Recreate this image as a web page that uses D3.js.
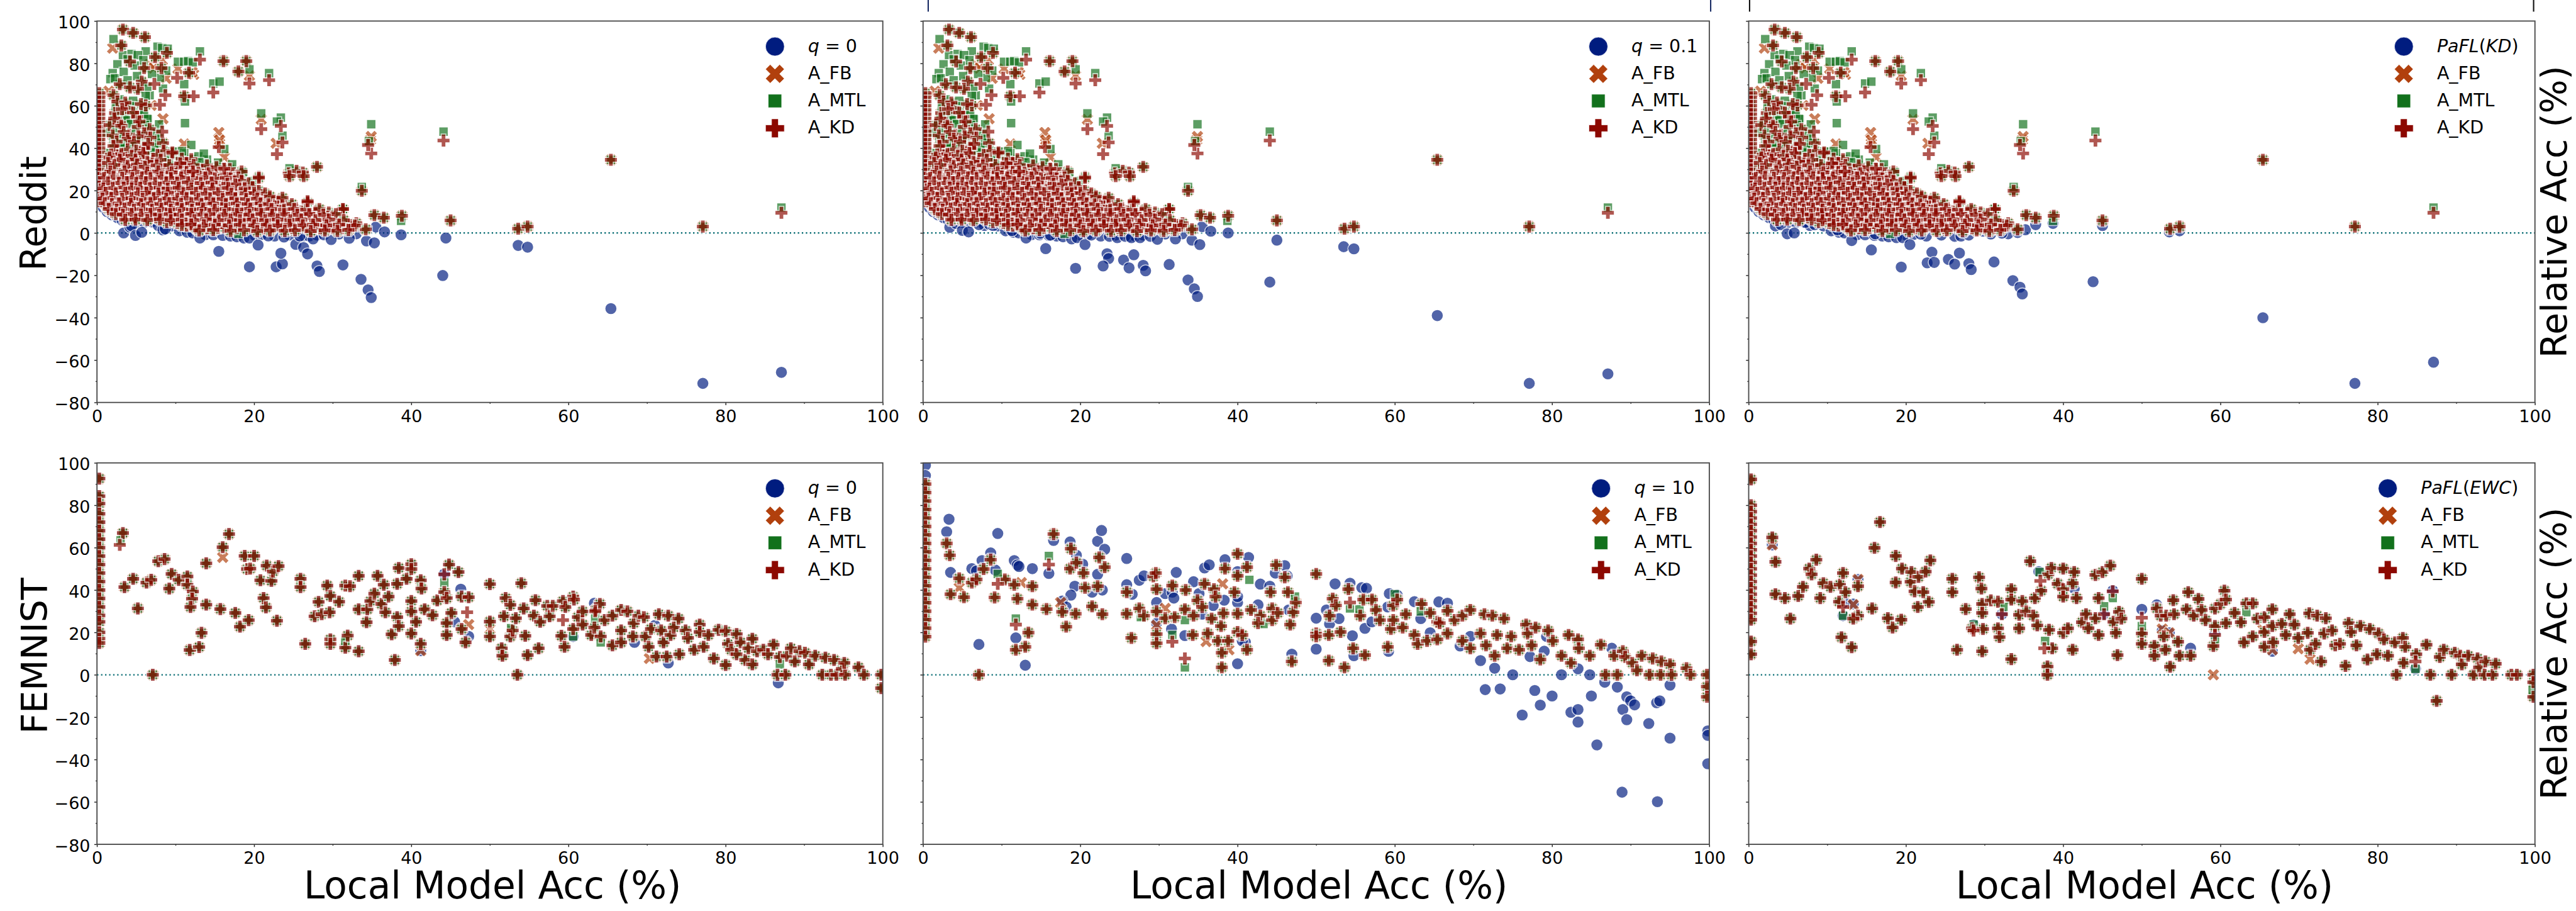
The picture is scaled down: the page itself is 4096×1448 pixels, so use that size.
<!DOCTYPE html>
<html><head><meta charset="utf-8">
<script src="https://cdnjs.cloudflare.com/ajax/libs/d3/7.8.5/d3.min.js"></script>
<style>html,body{margin:0;background:#fff}svg{display:block}text{font-family:"DejaVu Sans";fill:#000}</style>
</head><body><svg id="c" width="4096" height="1448" viewBox="0 0 5755 2035"></svg>
<script>
const xTicks=[0,20,40,60,80,100], xMinor=[10,30,50,70,90];
const yTicks=[-80,-60,-40,-20,0,20,40,60,80,100], yMinor=[-70,-50,-30,-10,10,30,50,70,90];
const seriesNames=["A_FB","A_MTL","A_KD"];

// ---------- Reddit: the three client series barely change between the panels
const redditStrip=[[.3,66],[.3,64],[.3,62],[.3,60],[.3,58],[.3,56],[.3,54],[.3,52],[.3,50],[.3,48],[.3,46],[.3,44],[.3,42],[.3,40],[.3,38],[.3,36],[.3,34],[.3,32],[.3,30],[.3,28],[.3,26],[.3,24],[.3,22],[.3,20],[.3,18],[.3,16.5],[.3,15]];
const redditShared=[[3.3,96],[4.6,94.4],[6.1,92.4],[3.1,88.5],[8.9,85],[7.4,83],[4.2,80.9],[6,77.8],[8.2,77.8],[16.1,81.1],[19,81.1],[18,76.2],[11.7,75.6],[5.7,71.4],[2.9,70.2],[11.1,64.5],[6.2,60.2],[5.2,68],[3.8,59],[2.1,65],[2.6,62],[4.2,68.7],[2.3,56.6],[5.1,54.8],[2.9,51.8],[1.6,50.9],[6.7,49],[5.2,50],[4.1,46.3],[8.4,42.4],[6,40.6],[2.5,38.4],[3.6,34.8],[9.5,37.5],[7.1,35],[12,34.8],[17,27.9],[14.5,29.3],[20.6,26.5],[24.4,28.1],[25.4,29.3],[26.2,28.5],[28,31.2],[33.7,19.9],[11.2,30.2],[10.2,31.4],[12.7,26.3],[23,14.8],[25.3,10.2],[29.5,9.6],[31.3,11.2],[27,9.3],[35.3,8.4],[36.5,7.2],[38.8,8.1],[45,5.9],[34.2,1.7],[32.2,2.7],[53.6,2],[54.8,3],[65.4,34.5],[77.1,3],
[2.5,36.5],[3.6,33],[4.7,27],[6.1,40],[5.4,35.8],[7.1,33.8],[8.5,38.7],[9.6,38],[8,28],[10.1,30.6],[11.2,31.3],[11.1,26.4],[12.7,26.4],[9.9,26.8],[14.6,29.2],[14.8,23.9],[16.1,30.3],[17,27.1],[16.6,19.4],[14.6,18.7],[13.5,16.2],[12.2,18.3],[10.5,18.3],[9.6,18.7],[7.9,15.5],[6.6,15.2],[5.6,19.4],[4.1,17.3],[3.3,14.1],[1.9,15.8],[8.8,12.7],[10.7,8.8],[12.2,6.7],[13.6,7],[14.6,9.5],[16.7,5.6],[15.4,2.5],[11.4,3.5],[18,9.2],[19,12.7],[21.8,12],[19.2,6],[21.8,4.9],[23.5,9.2],[23.1,15.1],[25.5,10.6],[26.9,14.4],[27.1,8.5],[25.6,3.5],[27.7,2.8],[23.5,3.5],[20.6,26],[24.5,26.8],[26.3,26.8],
[2,30],[4.3,30],[5.5,30.4],[6.8,29.7],[8.6,30.2],[11.9,30],[13.3,29.6],
[1.2,27.5],[3,27.8],[4,27.2],[5.9,27.6],[7,27.3],[9,27.7],[10.8,27.4],[12,27.7],[13.6,27.3],[15.8,27.5],
[1.6,25],[2.6,25.3],[3.7,24.8],[5.1,25.2],[6.3,24.9],[7.6,25.3],[8.8,24.7],[10,25.2],[11.5,24.8],[13,25.1],[14.2,24.9],[15.6,25.3],[17.4,24.7],
[1,22.5],[2.2,22.8],[3.2,22.3],[4.4,22.7],[5.6,22.4],[6.9,22.8],[8.2,22.3],[9.3,22.7],[10.9,22.4],[12.6,22.6],[13.8,22.3],[15.2,22.7],[16.1,22.4],[18,22.5],
[1.5,20],[2.7,20.3],[3.9,19.8],[4.9,20.2],[6.2,19.9],[7.4,20.3],[8.6,19.7],[9.8,20.2],[11.3,19.9],[12.9,20.2],[14,19.8],[15.8,20.1],[17.4,19.8],[18.6,20.2],
[.9,17.5],[2,17.8],[3.1,17.3],[4.6,17.7],[5.4,17.4],[6.8,17.8],[8.2,17.3],[9.2,17.6],[10.8,17.4],[11.8,17.7],[13.2,17.3],[14.9,17.6],[16.3,17.4],[17.8,17.7],[19.3,17.3],[20.6,17.5],
[1.4,15],[2.5,15.3],[3.7,14.8],[4.8,15.2],[6,14.9],[7.2,15.3],[8.5,14.8],[9.6,15.2],[11,14.9],[12.4,15.2],[13.9,14.8],[15.2,15.1],[16.8,14.9],[18.3,15.2],[19.6,14.8],[21,15],[22.4,14.7],
[1.2,13],[2.1,12.7],[3,12.3],[4.2,12.7],[5.2,12.4],[6.6,12.8],[7.6,12.3],[9.3,12.6],[10.3,12.4],[11.7,12.7],[13,12.3],[14.3,12.6],[15.8,12.4],[17.4,12.7],[18.7,12.3],[20.3,12.6],[22.6,12.4],[24,12.6],
[1.9,10.2],[2.9,9.8],[4,10.2],[5,9.9],[6.2,10.3],[7.4,9.8],[8.5,10.2],[9.8,9.9],[11.2,10.2],[12.5,9.8],[13.9,10.1],[15.6,9.9],[17,10.2],[18.6,9.8],[20,10.1],[21.2,9.9],[22.5,10.2],[24.4,9.8],[26,10.1],[27.8,9.9],
[3.6,7.7],[4.8,7.3],[6.1,7.7],[7.5,7.4],[8.7,7.8],[9.9,7.3],[11.6,7.6],[12.9,7.4],[14.8,7.7],[15.9,7.3],[17.5,7.6],[19,7.4],[20.4,7.7],[22,7.3],[23.2,7.6],[24.9,7.4],[26.3,7.7],[28.2,7.3],[29.4,7.6],
[8.9,5.2],[10.2,4.8],[11.8,5.1],[13.2,4.8],[14.4,5.2],[16,4.8],[17.3,5.1],[18.8,4.8],[20.2,5.2],[21,4.9],[22.7,5.1],[24.2,4.8],[25.7,5.2],[27,4.8],[28.9,5.1],[30.3,4.8],
[12.6,2.5],[14,2.2],[16.2,2.7],[17.8,2.3],[19.6,2.6],[21.2,2.2],[22.3,2.6],[24.8,2.3],[26.6,2.6],[28.4,2.2],[29.7,2.6],[31.2,2.3],[33,4.6],
[26.8,14.4],[31.3,11.3],[28.9,3.8],[30,2.4],[23.6,3.3],[32.2,3.8]];
const redditDense=[[3.6,61.5],[5.6,60.8],[3.2,58.4],[4.6,56.8],[2.2,54],[5.4,52.6],[3.1,50.6],[3.4,47.6],[6,47],
[2,46],[3.9,44.4],[5.3,45.6],[6.8,45],[2.5,43.1],[4.7,42.9],[6.5,42],
[2.1,41],[3.9,39.4],[5,38.8],[1.8,37],[3.1,37.2],[4.4,36.3],[5.9,37.6],[7.7,36.8],[1.6,35.6],[2.9,34.6],[4.9,34.7],[6.4,33.6],[8.1,34.5],[10.8,35],[11.4,33],
[1.4,33],[2.2,32],[3.9,31.6],[5.1,32.3],[6.1,31.2],[7.6,31.9],[9.2,32],[10.6,32.8],[12.3,32],[14,31.8],[15.2,31],[16.9,30.1],[18.4,29],
[1.7,28.9],[3.5,29],[4.8,28.8],[6.4,28.5],[7.8,29],[9.5,28.6],[11.4,28.8],[12.9,28.4],[14.2,28.1],[16.5,27.6],[18,26.2],
[.9,26],[2.1,26.4],[3.2,26],[4.5,25.9],[5.7,26.2],[6.8,25.9],[8.2,26.3],[9.4,25.9],[10.7,26.2],[12.3,25.9],[13.8,26.2],[15,25.7],[16.4,26],[18.4,24.6],[19.3,23.4],
[1.4,23.8],[2.8,23.6],[3.8,24],[5,23.6],[6.2,23.9],[7.4,23.5],[8.8,23.8],[10.2,23.7],[11.6,23.9],[13.2,23.5],[14.6,23.8],[16.6,23.2],[17.6,22.9],[19.8,21.6],
[.8,21],[2,21.2],[3.4,21.4],[4.4,21],[5.5,21.3],[6.7,21.1],[8,21.4],[9,20.9],[10.4,21.3],[12,21],[13.4,21.3],[14.7,21],[16.7,21.2],[18.8,21],[20.6,19.8],[21.4,18.6],
[1.1,18.9],[2.4,18.7],[3.6,19],[5.2,18.7],[6.3,19],[7.8,18.6],[9,19],[11,18.8],[12.6,18.9],[13.8,18.5],[15.4,18.8],[17.1,18.5],[18.9,18.7],[20,18.8],[22,17.2],
[.7,16.2],[1.8,16.5],[3.2,16.1],[4.4,16.4],[5.8,16],[7.2,16.4],[8.8,16.2],[10.2,16.1],[11.4,16.4],[12.9,16],[14.4,16.3],[16,16],[17.6,16.3],[19,16],[20.4,16.2],[23.6,16.6],
[1,14],[1.9,13.6],[2.8,13.9],[4.3,13.8],[5.6,13.6],[6.8,14],[8,13.6],[9.2,14],[10.7,13.7],[12,14],[13.3,13.6],[14.8,13.9],[16.4,13.6],[17.8,13.9],[19.2,13.6],[20.8,13.9],[21.8,13.5],[24.8,13.6],
[1.5,11.3],[2.5,11],[3.5,11.4],[4.7,11],[5.9,11.3],[7,11],[8.2,11.4],[9.4,11],[10.8,11.3],[12.1,11],[13.5,11.4],[15,11],[16.4,11.3],[17.9,11],[19.5,11.4],[20.8,11],[22.2,11.3],[23.8,11],[25.1,11.3],[26.6,11],[28.3,11.3],
[2.4,8.9],[3.3,8.6],[4.4,9],[5.6,8.7],[6.8,9],[7.9,8.6],[9.3,8.9],[10.5,8.6],[12,9],[13.3,8.6],[14.3,8.9],[16.2,8.6],[17.8,8.9],[19.4,8.6],[20.9,8.9],[22.3,8.6],[23.8,8.9],[25.5,8.6],[27,8.9],[28.8,8.6],[30.4,8.9],
[3.6,6.2],[4.9,6.3],[6.4,6.1],[8,6.4],[9.4,6],[10.8,6.3],[12.4,6],[13.9,6.4],[15.5,6],[17,6.3],[18.2,6],[19.8,6.3],[21.4,6],[23,6.3],[24.6,6],[26,6.3],[27.8,6],[29.5,6.3],[31.4,6],
[10.8,3.8],[12,4],[13.6,3.6],[15,3.9],[16.8,3.6],[18.2,3.9],[20,3.6],[21.6,3.9],[23,3.6],[24.5,3.9],[26.2,3.6],[27.5,3.9],[29.2,3.6],[30.8,3.9],[32.8,3.5],
[13,1.2],[14.8,1.4],[17,1],[18.7,1.3],[20.4,.9],[22,1.2],[23.9,1],[25.2,1.3],[27.2,.9],[29,1.2],[30.6,1],[32,1.4]];
const redditKDOnly=[[19.4,70.5],[10.2,73.2],[7.3,70.3],[12.3,64.5],[14.8,66.3],[8.7,65],[8,60.5],[8.3,47.8],[22.9,37.2],[15.5,40.5],[34.9,37.5],[13.1,81.8],[44.1,43.6],[16.2,30.3],[23.4,50.5],[20.9,49],[23.6,42.7],[26.8,15],[21.9,72.1],[34.5,41.5],[87.1,9.5],[12.2,29]];
const redditMTLOnly=[[2.1,91.5],[13.1,85.7],[7.7,87.9],[8.3,87.3],[9,86.9],[6.2,85.7],[3.3,83.9],[4.4,84.5],[5.2,83.9],[2.6,79.6],[2,75.4],[1.7,72.6],[2.3,73],[10.3,80.8],[11.1,80.8],[11.6,81.1],[12.2,80.5],[8.8,76.6],[8,73.2],[11.1,70.2],[11.2,62],[14.8,70.5],[15.6,71.4],[19.4,77.2],[21.9,75.4],[20.9,56.4],[23.4,54.4],[22.9,52.6],[23.6,45.9],[34.9,51.3],[34.6,43.3],[44.1,47.8],[11.2,51.8],[6.7,65],[6.2,64.8],[8.4,68.1],[7.9,51.2],[1.3,47.3],[7.7,42.4],[6.4,43.9],[5.4,43.5],[12,41.5],[11.1,37.6],[16.2,39.6],[1.4,37.8],[1.2,30.5],[2.1,44.5],[10.2,36.6],[8.8,36],[7.8,37.2],[12.7,33.6],[6.5,53.6],[3.6,54.4],[17.7,23.3],[33.7,21.7],[24.5,30.5],[26.8,13],[15.7,26.9],[14.4,31.2],[38.7,5.7],[18,-.4],[87.1,12],[5,44],[3.2,40],[4.6,41],[6.8,39],[9.2,33],[13.4,30],[3,47],[3.9,82],[5.9,81.5],[4.8,79],[3.4,76],[7,75],[5.1,74],[3.9,72],[6.4,69],[9.6,38.5],[10.8,38.6],[12.9,36.2],[14,34.6],[13.6,37.4],[15.4,33.2],[17.2,32.4],[18.6,28.6],[19.8,24.6],[2.9,63],[4.6,62.4],[2.4,59.6],[4.4,59.8],[5.9,58],[2.7,56],[3.5,55.5],[6,56.2],[3.9,53.2],[6.4,53.8],[1.9,52],[4.3,51.4],[6.1,50.9],[2.4,48.6],[4.9,47.8],[7.6,47.2],[2.9,45.2],[7.9,44.6],[3.4,42.3],[7.3,40.7],[3,40.3],[6.9,38],[9.1,36],[13,33.4]];
const redditFBOnly=[[2,87.2],[8.3,81.5],[6.7,79.6],[7.2,77.8],[10.3,77.5],[12.3,74.8],[12.1,76],[8.8,73],[19.4,74.2],[1.5,66.9],[6.9,60.2],[8.4,53.9],[15.5,47.4],[20.9,53.6],[22.8,42.3],[34.8,43.9],[16.2,35.8],[11.1,42],[12.8,30.5],[8.8,32.4],[.7,34.8],[34.9,45.5],[15.6,42.2],[15.6,43.8]];
const redditQEdge=[[.8,12],[1.3,10],[1.9,8.5],[2.6,7.2],[3.2,6],[4,5.4],[5,5],[6,5],[7,5.2],[7.8,3.5],[9.5,3.3],[10.5,1],[11.5,.3],[12.2,0],[13.8,-.8],[14.8,-.9],[16,-1.2],[17,-1.5],[17.8,-1.8],[20,-1],[21,-.7],[22.6,-1.5],[24.5,-1],[26.2,-1.6],[27,-1.5],[28,-1],[30.8,-.5],[33,-.4],[16.6,12.3],[26.5,9.6]];
const redditQ0=[[3.4,0],[4.2,2.8],[4.4,3.3],[4.9,-1.2],[5.7,.3],[8.4,1.4],[8.7,1.9],[13.1,-2.4],[15.5,-8.7],[18.7,-2.4],[19.4,-2.4],[20.5,-5.7],[19.4,-16],[22.8,-16],[23.6,-14.6],[23.4,-9.6],[21.8,-1.4],[23.8,-1.9],[25.3,-5.4],[26.3,-6.9],[26.8,-9.9],[25.8,-1.4],[27.5,-2.8],[28,-15.6],[28.3,-18.2],[28.9,-.9],[29.8,-3.1],[31.3,-15.1],[32.1,-2.5],[33.6,-21.9],[34.5,-26.9],[34.9,-30.5],[34.3,-3.8],[35.3,-4.7],[35.5,2.8],[36.6,.5],[38.7,-.9],[44,-20.1],[44.4,-2.4],[31.1,1.4],[53.6,-5.9],[54.8,-6.7],[65.4,-35.7],[77.1,-71],[87.1,-65.8]];
const redditQ01=[[3.4,2.7],[4.2,4.5],[5,1.2],[5.8,.5],[7.1,3.9],[8.4,4.2],[8.9,3.5],[11.3,1.1],[13.1,-2.4],[14.9,-.1],[16.2,-1],[15.6,-7.4],[18.9,-2.8],[19.6,-2.2],[20.6,-5.5],[19.4,-16.7],[21.4,-1],[23.4,-9.8],[23.6,-12.1],[22.9,-15.6],[23.7,-1.6],[24.7,-2.2],[25.5,-12.8],[26.2,-16.5],[26.8,-10.3],[25.7,-1.6],[26.5,-2.2],[27.6,-2.2],[28,-15.3],[28.3,-17.9],[28.9,-1.6],[29.8,-3],[31.3,-14.9],[32.1,-2.8],[33.7,-22.2],[34.5,-26.4],[34.9,-30],[34.2,-3.4],[35.2,-5.5],[35.5,3],[36.6,.8],[38.8,0],[45,-3.4],[44.1,-23.2],[31,1.5],[53.5,-6.5],[54.8,-7.5],[65.4,-39],[77.1,-71],[87.1,-66.5]];
const redditQKD=[[3.4,3.3],[4.1,3.9],[4.9,-.4],[5.8,0],[7.2,5],[8.4,3.9],[11.3,1.5],[13.1,-3.6],[15.6,-8],[16.1,-.4],[18.8,-2.2],[19.6,-2.2],[20.5,-5.5],[19.4,-16.1],[21.9,-.6],[23.3,-9.1],[22.7,-14.1],[23.6,-13.9],[25.4,-12.5],[26.2,-14.7],[26.8,-9.5],[28,-14.5],[28.3,-17.3],[29.8,.8],[31.2,-13.7],[32.2,-.1],[33.6,-22.5],[34.5,-25.6],[34.8,-28.8],[34.2,.2],[35.2,1.5],[36.5,3.9],[38.7,4.5],[43.8,-23],[27.3,.2],[45,3.5],[53.5,.5],[54.8,1],[65.4,-40],[77.1,-71],[87.1,-61]];

// ---------- FEMNIST panel 1
const fem1Shared=[[.3,92.6],[.3,84.3],[.3,80.8],[.3,76],[.3,72],[.3,68],[.3,64],[.3,60],[.3,56],[.3,52],[.3,48],[.3,44],[.3,40],[.3,36],[.3,32],[.3,28],[.3,25],[.3,20],[.3,17],[.3,15],[3.3,66.9],[3.5,41.4],[4.6,45.3],[6.3,43.5],[6.9,44.8],[5.2,31.3],[7.1,0],[7.8,53.6],[8.6,54.6],[9.2,40.7],[9.5,47.6],[10.4,44.8],[11.5,46.4],[11.5,42.5],[12.2,39.3],[12.1,35.9],[11.9,32],[11.8,11.7],[13,13.1],[13.3,19.8],[13.9,52.6],[13.9,33.1],[15.7,31],[16,60.2],[16.8,66.4],[17.6,29.2],[18.2,22.7],[18.8,56.1],[19.1,49.9],[20,56.1],[19.5,50.1],[19.3,25.8],[20.8,44.6],[21.2,36.2],[21.5,31.8],[21.6,51.5],[22.2,44.3],[22.4,48.7],[23.1,51.3],[22.9,25.5],[25.9,45.3],[25.9,41.4],[26.5,14.6],[27.7,27.6],[28.2,34.4],[28.6,28.6],[29.3,42.1],[29.7,37.2],[29.6,29.5],[29.7,16.7],[29.7,14.6],[30.8,34.5],[31.6,42.1],[32.2,41.8],[31.6,12.8],[31.9,18.5],[33.3,46.7],[33.3,30.9],[33.3,11.1],[34.4,30.9],[34.3,24.8],[34.8,34.8],[35.3,38.3],[35.7,46.7],[36.2,33.4],[36.5,42.5],[36.7,29.5],[37.1,36.9],[37.5,19.1],[37.9,7],[38.2,42.9],[38.2,27.2],[38.4,23],[38.4,50.4],[39.4,45.3],[40,34.8],[40,29.9],[40,19.5],[40,52.2],[40,49.9],[40.6,25],[41.2,44.6],[41.3,40.7],[41.2,14.6],[41.7,30.9],[42.7,28.1],[43.3,35.1],[44.2,39],[44.5,36.2],[44.5,24.4],[44.5,18.8],[44.8,52],[45.1,29.2],[46,48.5],[46.4,36.9],[46.4,21.6],[46.9,15.3],[47.3,36.6],[50,42.8],[50,25.1],[50,18.1],[51.5,12.5],[51.6,9],[51.8,27.6],[52,36.2],[52.6,33],[52.6,18.1],[52.9,20.9],[53.3,26.7],[53.5,0],[54,43.2],[54.3,31.3],[54.5,18.4],[54.8,9.3],[55.8,35.2],[55.6,27.9],[56.4,25],[56.2,12.5],[57.3,32.5],[57.6,27.6],[58,32.5],[59.3,34.8],[59.6,32],[59.1,18.4],[59.5,13.2],[60.6,36.9],[60.7,35.5],[60.6,21.6],[61.2,27.2],[61.8,29.9],[61.8,23.7],[62.9,18.8],[63.3,22.3],[63.5,30.6],[64,33.4],[64.1,18.1],[64.6,25.8],[65.6,13.9],[65.6,27.9],[66.7,30.6],[66.7,20.9],[66.7,15.3],[67.5,29.9],[68.2,18.1],[68.3,24.4],[68.9,27.9],[69.6,27.2],[69.8,18.1],[70.2,13.2],[70.5,21.6],[71.2,8.6],[71.5,28.6],[71.8,20.9],[72.1,15.3],[72.5,8.6],[72.7,27.9],[73,18.8],[73.4,22.3],[74,26.5],[74.1,9.7],[74.9,20.9],[75.2,17.4],[76,11.8],[76.7,23.7],[76.7,20.2],[77.2,13.2],[77.8,18.8],[78.5,7.7],[79.1,21.2],[80,20.6],[80,4.6],[80.3,14.6],[80.7,11.8],[81.4,19.2],[81.4,9.7],[81.9,15.3],[82.5,7],[82.9,12.5],[83.4,17],[83.4,4.9],[84,11.1],[84.8,11.8],[85.4,9.7],[86.1,14.2],[86.6,0],[87.6,0],[86.9,8.4],[87.8,9],[88.3,12.5],[88.8,6.3],[89.4,11.1],[90.1,10.4],[90.6,4.9],[91.4,9],[92.3,0],[92.7,8.1],[93.8,7],[93.4,0],[94.1,0],[94.8,2.8],[95.2,0],[95.1,5.6],[96.9,3.5],[97.6,0],[99.8,0],[99.8,-6.3]];
const fem1Q=[[63.3,33.8],[71,23.3],[72.7,5.6],[86.7,-3.8],[44.2,47.6],[46.3,40.4],[45.5,25],[47.3,18.1],[68.4,15.3],[60.6,18.1],[41.2,11.4]];
const fem1FB=[[16,55.4],[47.3,23.7],[70.3,7.7],[50,21.6],[41.2,11.4]];
const fem1MTL=[[3,63.4],[44.2,43.5],[63.4,26.5],[64.1,15.3],[86.9,4.9],[31.6,16],[60.6,18.1],[52.7,22]];
const fem1KD=[[2.9,61.3],[47.1,29.5],[59.3,25.8],[44.2,47.4],[63.4,30]];

// ---------- FEMNIST panel 2
const fem2Shared=[[.3,90],[.3,86],[.3,82],[.3,78],[.3,74],[.3,70],[.3,66],[.3,62],[.3,58],[.3,54],[.3,50],[.3,46],[.3,42],[.3,38],[.3,34],[.3,30],[.3,26],[.3,22],[.3,18],[3,62],[3.4,56.4],[3.5,38],[5.2,36.6],[4.6,45.5],[6.2,43.5],[6.8,45],[7.7,49.9],[8.6,54.3],[9.1,36.5],[10.4,45],[11.6,42.5],[12,35.9],[11.8,11.8],[13,13.2],[13.4,19.9],[13.9,41.8],[13.9,33.1],[15.7,31],[16.6,66.4],[17.7,29.7],[18.2,22.7],[18.8,59.5],[18.7,50.1],[19.5,52.9],[19.4,28.8],[20.4,48],[20.6,41.1],[21.5,32.3],[22.2,41.8],[22.4,55.4],[23.1,50.8],[22.8,28.6],[7.1,0],[25.9,39],[25.9,28.8],[26.5,17.4],[27.5,31.3],[28.1,27.9],[29.3,46.4],[29.6,48],[29.7,40.4],[29.7,29.9],[29.7,19.2],[29.7,14.9],[30.8,26.7],[31.7,42.1],[32,27.2],[33.3,30.9],[33.4,40],[34.3,18.8],[34.4,27.9],[34.9,35.1],[35.5,32],[35.8,42.9],[36.2,19.5],[36.7,26.5],[37,40.4],[37.2,36.9],[37.5,16],[38,10.4],[38,3.5],[37.9,23],[38.2,29],[38.4,50.1],[38.8,16],[39.6,39],[40,57.1],[40,46.7],[40,28.8],[40,20.2],[40.6,18.8],[41.2,50.8],[41.2,11.8],[41.7,30.6],[42.9,27.9],[42.6,24.4],[44.2,39],[44.4,31.3],[44.4,25.8],[44.9,51.8],[45.1,29.2],[46,46],[46.4,39],[46.7,23.7],[47.1,29.5],[47.4,34.1],[46.9,6.3],[50,47.6],[50,19.5],[50,18.1],[51.6,18.8],[51.7,27.9],[51.6,6.7],[52.1,35.9],[52.5,32.7],[53.1,20.2],[53.6,3.5],[54.1,40.4],[54.7,12.5],[55.6,27.9],[56,35.5],[56.2,9.3],[57.1,35.5],[57.6,30.6],[58.1,25.8],[59.1,13.2],[59.5,21.6],[59.8,32.7],[60.3,35.5],[59.8,25.8],[61.4,28.6],[61,22.3],[62.5,18.8],[62.9,14.6],[63.4,33.4],[64.1,16],[64.5,29.2],[65.4,25],[65.4,16.7],[65.7,24.4],[66.7,30.2],[66.7,19.5],[67.6,25.8],[68.6,27.9],[68.6,16],[69.6,30.6],[69.6,12.5],[71.4,28.6],[70.9,19.5],[71.6,13.9],[72.7,9],[72.4,27.9],[73,18.8],[73.9,26.5],[74.3,12.5],[74.8,18.1],[75.8,11.8],[76.7,23.7],[76.9,19.5],[77.4,13.9],[77.9,22.3],[78.5,7.2],[79.5,20.9],[80.1,16],[81.2,9],[82.1,18.8],[82.4,5.6],[83.3,16.7],[83.4,12.5],[84.8,9],[86.2,14.2],[86.8,0],[87.9,9],[88.3,0],[89,11.1],[89.3,8.4],[90.2,5.6],[90.8,2.1],[91.4,9],[92.4,0],[92.8,7.7],[93.9,6.3],[93.8,0],[95,4.9],[95.2,0],[97.1,3.1],[97.6,0],[99.7,0],[99.7,-5.6],[99.7,-10.4]];
const fem2Q=[[.3,98.9],[.3,94],[.3,87.7],[3.3,73.4],[3,67.5],[9.5,66.7],[3.5,48.3],[6.2,50.1],[6.8,49],[7.5,53.9],[8.6,57.5],[9.2,49.4],[11.6,53.9],[12,51.8],[12.2,51.1],[13.9,50.1],[16,47.8],[16.6,63.4],[11.8,17.4],[7.1,14.3],[13,4.5],[18.7,62.7],[19.5,56.4],[20.3,52.2],[22.2,63],[22.7,68.1],[23.1,59.2],[22.2,47.4],[22.8,40],[19.3,41.8],[18.8,37.6],[17.7,34.8],[18.2,32],[21.5,39],[25.9,54.9],[25.9,42.5],[26.6,38],[27.5,44.6],[28.1,46.7],[29.7,34.1],[29.7,24.4],[30.8,38.3],[31.7,39],[31.9,36.2],[31.6,21.6],[32.2,48.3],[33.3,18.5],[34.4,43.9],[35.1,38.3],[35.8,50.4],[36.4,51.9],[38.4,54.3],[38.3,35.2],[36.9,32.7],[35.5,28.6],[40,48.7],[40,34.1],[40,36.9],[41.4,55.4],[41,15.3],[40.6,16],[40,5.2],[42.6,33],[42.9,42.8],[44.1,41.8],[44.8,48],[46,51.5],[46.3,46.7],[46.5,30.6],[46.9,9.7],[50,26.7],[50,12.1],[51.7,24],[52.4,42.9],[51.3,30.6],[52.9,26.5],[54.3,43.2],[55.8,41.1],[56.4,40.8],[54.6,18.4],[56.2,21.9],[54.8,9],[57.1,25],[59.3,38.3],[60.3,37.6],[59.1,32],[59.2,11.1],[62.5,34.5],[63.3,26.5],[64.5,19.8],[65.6,34.4],[66.7,33.8],[68.3,13.6],[69.6,18.1],[70.9,6.7],[72.7,3.1],[75,0],[77.2,8.6],[79,11.1],[79.3,18.1],[81.2,0],[83.3,2.8],[84.8,0],[86.7,-3.5],[88.3,-5.8],[87.6,12.5],[71.5,-7],[73.4,-6.7],[77.8,-7.4],[80,-10],[85,-10],[78.5,-14.3],[76.2,-19],[82.4,-17.7],[83.3,-16.4],[83.3,-22.3],[89,-16.4],[89.5,-10.4],[90,-12.3],[90.5,-14.2],[89.5,-21.2],[93.3,-13.2],[93.7,-12.3],[95,-4.9],[92.3,-23],[95,-29.9],[85.7,-33.1],[88.9,-55.4],[93.4,-59.9],[99.8,-26.5],[99.8,-28.6],[99.8,-42]];
const fem2FB=[[4.6,41.1],[30.8,31.3],[38.1,42.9],[36,15.7],[38.9,11.8],[17.5,34.1],[29.7,23.3],[12.5,43.5]];
const fem2MTL=[[16,56.1],[9.5,47.6],[11.8,26.5],[33.3,25.8],[33.3,3.5],[41.5,44.8],[47.3,36.9],[54.3,31.3],[55.5,30.9],[63.3,29.9],[43.3,24],[31.7,18.8],[27.7,27.2],[60,38]];
const fem2KD=[[16,52],[9.5,42.9],[11.8,23.7],[33.3,7.7],[54.3,34.1],[31.7,15.6]];

// ---------- FEMNIST panel 3
const fem3Shared=[[.3,92.2],[.3,80],[.3,77],[.3,74],[.3,71],[.3,68],[.3,65],[.3,62],[.3,59],[.3,56],[.3,53],[.3,50],[.3,47],[.3,44],[.3,41],[.3,38],[.3,35],[.3,32],[.3,29],[.3,26],[.3,15.7],[.3,9.7],[3,64.8],[3.4,53.3],[3.4,38],[4.6,36.2],[5.3,26.5],[6.3,37.2],[6.9,41.5],[7.7,50.1],[8,47.4],[8.6,54.3],[9.1,36.2],[9.5,43.2],[10.4,41.5],[11.6,42.5],[11.5,34.5],[12,48],[12.3,39],[11.8,17.7],[13.1,13],[13.9,41.8],[13.9,27.9],[13.3,26.5],[15.7,31.3],[16,59.9],[16.7,72.1],[17.7,26.7],[18.3,22.3],[19.4,26],[18.7,56.1],[18.7,43.6],[19.5,50.1],[20.6,43.9],[20.7,48.5],[21.1,39.4],[21.5,32],[21.6,46.2],[22.2,39],[22.5,48.7],[22.9,34.4],[23.1,54],[25.9,45.3],[25.9,39],[26.5,11.8],[27.6,31],[28.4,21.9],[29.3,46],[29.6,40.7],[29.7,33.4],[29.7,29.2],[29.8,21.6],[29.7,11.1],[30.8,35.1],[31.7,34.5],[31.7,21.9],[31.9,17.8],[33.4,40.4],[33.4,35.5],[33.4,7.4],[34.4,28.3],[34.4,21.9],[34.8,34.8],[35.3,29.9],[35.8,53.6],[36.2,27.9],[36.4,36.2],[36.7,23.3],[37.2,39.7],[38,3.9],[38,0],[38.1,47.4],[38.2,21.2],[38.5,50.4],[38.6,12.5],[39.3,42.9],[40,50.1],[40,40.4],[40,36.9],[40,19.8],[40.6,21.9],[41.2,43.2],[41.2,11.8],[41.4,48.5],[41.7,36.2],[42.4,24.8],[42.9,28.6],[43.2,22],[44.1,47.1],[44.1,26.7],[44.5,18.8],[44.5,36.2],[45,48.5],[46,51.5],[46.4,25],[46.7,19.8],[46.9,9.3],[47.1,29.7],[47.4,26.5],[50,45.3],[50,19.5],[50,14.6],[51.6,13.6],[51.6,9],[51.9,31.3],[52.4,27.9],[52.8,18.1],[53.1,27.9],[53,11.8],[53.6,3.8],[54.1,28.6],[54,35.2],[54.6,15.6],[54.8,9],[55.7,30.9],[55.9,39],[56.2,9],[56.6,27.9],[57.2,35.8],[57.6,30.6],[58.1,25.8],[59.1,13.6],[59.3,31.3],[59.3,23],[60,33.4],[60.5,39.7],[60.7,35.5],[60.7,24.4],[61.8,29.2],[62.6,24.8],[63,15.3],[63.3,33.7],[64.1,33.7],[64.1,18.1],[64.7,26.5],[65.6,20.2],[65.6,27.2],[65.6,13.2],[66.6,30.9],[66.6,23],[66.7,15.3],[67.8,24],[68.3,18.8],[68.8,28.6],[69.4,23.7],[69.9,17.4],[71.3,29],[71.1,19.8],[71.4,11.8],[72.3,27.9],[72.1,14.6],[72.8,6.3],[73.2,19.5],[73.4,26.7],[74.2,20.9],[74.6,13.9],[75.2,14.6],[75.9,4.2],[76.3,24.4],[76.6,20.2],[77.3,13.9],[77.8,23],[78.7,7.2],[79,21.6],[79.9,9.7],[80.1,19.5],[80.8,16.7],[81.3,9],[82.2,15.3],[82.4,0],[83.2,17.4],[83.3,5.6],[83.5,13.2],[84.9,9.7],[86.2,14.2],[86.7,0],[87.5,-12.3],[87.9,8.4],[88.4,11.8],[89.4,0],[89.8,10.4],[90.5,9],[90.7,4.9],[91.5,9],[92.2,0],[92.7,7.7],[92.9,3.5],[93.7,6.3],[93.6,0],[94.6,0],[95,5.2],[97,0],[97.7,0],[99.8,0],[99.8,-10.4],[99.8,-3.5]];
const fem3Q=[[3,61.3],[13.9,45],[12.3,34.1],[13.3,33.4],[12,27.9],[36.9,48.7],[41.4,40.7],[46.3,39.7],[50,30.9],[51.9,33],[56.2,12.5],[52.6,20.9],[53.5,19.8],[59.3,19.2],[32.2,28.6],[28.6,23.7],[45.2,28.6],[66.6,11.1],[84.8,2.8]];
const fem3FB=[[59.1,0],[65.4,21.3],[13.3,33.1],[13.9,45],[3,61.3],[52.6,21.6],[53.5,19.8],[69.9,12.3],[71.4,7.4],[66.6,11.8]];
const fem3MTL=[[12,27.9],[37,48.5],[46.3,36.2],[63.3,29.5],[45.2,32.3],[37.7,16],[50,23],[59.3,16.7],[84.8,2.8],[32.4,32],[28.6,23.7],[99.7,-7.2]];
const fem3KD=[[37.1,44.3],[50,26.9],[46.3,39.4],[28.6,20.9],[45.2,28.6],[32.2,28.6],[37.6,12.5],[59.3,18.8],[84.8,6.3],[12,32]];

// ---------- layout (reference pixels)
const colors={q:"#001c7f",fb:"#b1400d",mtl:"#12711c",kd:"#8c0800"};
const columns=[{l:216,r:1972},{l:2062,r:3819},{l:3907,r:5664}];
const rows=[{t:47,b:899},{t:1034,b:1886}];
const redditCommon=redditStrip.concat(redditShared,redditDense);
const redditKD=redditCommon.concat(redditKDOnly);
const redditMTL=redditCommon.concat(redditMTLOnly);
const redditFB=redditCommon.concat(redditFBOnly);
const panels=[
 {r:0,c:0,leg:[{t:"q",i:1},{t:" = 0"}],mx:1731,tx:1805,q:redditQEdge.concat(redditQ0),fb:redditFB,mtl:redditMTL,kd:redditKD},
 {r:0,c:1,leg:[{t:"q",i:1},{t:" = 0.1"}],mx:3571,tx:3645,q:redditQEdge.concat(redditQ01),fb:redditFB,mtl:redditMTL,kd:redditKD},
 {r:0,c:2,leg:[{t:"PaFL",i:1},{t:"("},{t:"KD",i:1},{t:")"}],mx:5371,tx:5445,q:redditQEdge.concat(redditQKD),fb:redditFB,mtl:redditMTL,kd:redditKD},
 {r:1,c:0,leg:[{t:"q",i:1},{t:" = 0"}],mx:1731,tx:1805,q:fem1Shared.concat(fem1Q),fb:fem1Shared.concat(fem1FB),mtl:fem1Shared.concat(fem1MTL),kd:fem1Shared.concat(fem1KD)},
 {r:1,c:1,leg:[{t:"q",i:1},{t:" = 10"}],mx:3577,tx:3651,q:fem2Q,fb:fem2Shared.concat(fem2FB),mtl:fem2Shared.concat(fem2MTL),kd:fem2Shared.concat(fem2KD)},
 {r:1,c:2,leg:[{t:"PaFL",i:1},{t:"("},{t:"EWC",i:1},{t:")"}],mx:5335,tx:5409,q:fem3Shared.concat(fem3Q),fb:fem3Shared.concat(fem3FB),mtl:fem3Shared.concat(fem3MTL),kd:fem3Shared.concat(fem3KD)}
];

// filled markers "X" and "P", size = (full width)^2
const symX={draw(ctx,s){const h=Math.sqrt(s)/2,a=h/2;
  const p=[[-h,-a],[-a,-h],[0,-a],[a,-h],[h,-a],[a,0],[h,a],[a,h],[0,a],[-a,h],[-h,a],[-a,0]];
  p.forEach((q,i)=>i?ctx.lineTo(q[0],q[1]):ctx.moveTo(q[0],q[1]));ctx.closePath();}};
const symP={draw(ctx,s){const h=Math.sqrt(s)/2,a=h*.36;
  const p=[[-a,-h],[a,-h],[a,-a],[h,-a],[h,a],[a,a],[a,h],[-a,h],[-a,a],[-h,a],[-h,-a],[-a,-a]];
  p.forEach((q,i)=>i?ctx.lineTo(q[0],q[1]):ctx.moveTo(q[0],q[1]));ctx.closePath();}};
const symC={draw(ctx,s){const r=Math.sqrt(s)/2;ctx.moveTo(r,0);ctx.arc(0,0,r,0,2*Math.PI);}};
const symS={draw(ctx,s){const h=Math.sqrt(s)/2;ctx.rect(-h,-h,2*h,2*h);}};
const mark=(t,w)=>d3.symbol().type(t).size(w*w)();
const plotMarks=[{k:"q",d:mark(symC,27)},{k:"fb",d:mark(symX,29)},{k:"mtl",d:mark(symS,21)},{k:"kd",d:mark(symP,29)}];
const legendMarks=[{k:"q",d:mark(symC,42)},{k:"fb",d:mark(symX,42)},{k:"mtl",d:mark(symS,30)},{k:"kd",d:mark(symP,42)}];
const legendOffsets=[57,118,178.5,239.5];

const svg=d3.select("#c");
svg.append("rect").attr("width",5755).attr("height",2035).attr("fill","#fff");

panels.forEach((p,i)=>{
  const R=rows[p.r],C=columns[p.c];
  const x=d3.scaleLinear().domain([0,100]).range([C.l,C.r]);
  const y=d3.scaleLinear().domain([-80,100]).range([R.b,R.t]);
  const g=svg.append("g");
  const cid="clip"+i;
  g.append("clipPath").attr("id",cid).append("rect").attr("x",C.l).attr("y",R.t).attr("width",C.r-C.l).attr("height",R.b-R.t);
  const plot=g.append("g").attr("clip-path",`url(#${cid})`);
  plot.append("line").attr("x1",x(0)).attr("x2",x(100)).attr("y1",y(0)).attr("y2",y(0))
    .attr("stroke","#0b6e75").attr("stroke-width",3.2).attr("stroke-dasharray","3.2 5.8");
  plotMarks.forEach(m=>{
    plot.append("g").selectAll("path").data(p[m.k]).join("path")
      .attr("d",m.d).attr("transform",d=>`translate(${x(d[0])},${y(d[1])})`)
      .attr("fill",colors[m.k]).attr("stroke","#fff").attr("stroke-width",2.2).attr("opacity",.68);
  });
  // axes
  const ax=g.append("g").attr("transform",`translate(0,${R.b})`)
    .call(d3.axisBottom(x).tickValues(xTicks).tickSize(6).tickPadding(0).tickFormat(d3.format("d")));
  ax.selectAll("text").attr("font-size",38).attr("y",0).attr("dy",0).attr("transform",`translate(0,44)`);
  const axm=g.append("g").attr("transform",`translate(0,${R.b})`).call(d3.axisBottom(x).tickValues(xMinor).tickSize(3).tickFormat(""));
  const ay=g.append("g").attr("transform",`translate(${C.l},0)`)
    .call(d3.axisLeft(y).tickValues(yTicks).tickSize(6).tickPadding(0).tickFormat(p.c===0?d3.format("d"):""));
  ay.selectAll("text").attr("font-size",38).attr("x",-15).attr("dy",0).attr("y",16);
  const aym=g.append("g").attr("transform",`translate(${C.l},0)`).call(d3.axisLeft(y).tickValues(yMinor).tickSize(3).tickFormat(""));
  [ax,axm,ay,aym].forEach(a=>{a.select(".domain").remove();a.selectAll("line").attr("stroke","#222").attr("stroke-width",2);a.attr("font-family",null);});
  g.append("rect").attr("x",C.l).attr("y",R.t).attr("width",C.r-C.l).attr("height",R.b-R.t)
    .attr("fill","none").attr("stroke","#4a4a4a").attr("stroke-width",2.6);
  // legend
  legendMarks.forEach((m,j)=>{
    g.append("path").attr("d",m.d).attr("transform",`translate(${p.mx},${R.t+legendOffsets[j]})`)
      .attr("fill",colors[m.k]).attr("stroke","#fff").attr("stroke-width",1);
    const t=g.append("text").attr("x",p.tx).attr("y",R.t+legendOffsets[j]+12).attr("font-size",40);
    if(j===0) p.leg.forEach(s=>t.append("tspan").attr("font-style",s.i?"italic":"normal").text(s.t));
    else t.text(seriesNames[j-1]);
  });
  // x label
  if(p.r===1) g.append("text").attr("x",(C.l+C.r)/2+6).attr("y",2007).attr("text-anchor","middle").attr("font-size",84).text("Local Model Acc (%)");
});

const rowLabel=(t,bx,cy)=>svg.append("text").attr("transform",`translate(${bx},${cy}) rotate(-90)`).attr("text-anchor","middle").attr("font-size",80).text(t);
rowLabel("Reddit",102,477);
rowLabel("FEMNIST",104,1465);
rowLabel("Relative Acc (%)",5734,473);
rowLabel("Relative Acc (%)",5734,1460);

// cropped remains of a frame at the very top of the image
[[2073.5,"#1c2e66"],[3822,"#1c2e66"],[3909,"#111"],[5661,"#111"]].forEach(s=>
  svg.append("line").attr("x1",s[0]).attr("x2",s[0]).attr("y1",0).attr("y2",26).attr("stroke",s[1]).attr("stroke-width",3));
</script></body></html>
